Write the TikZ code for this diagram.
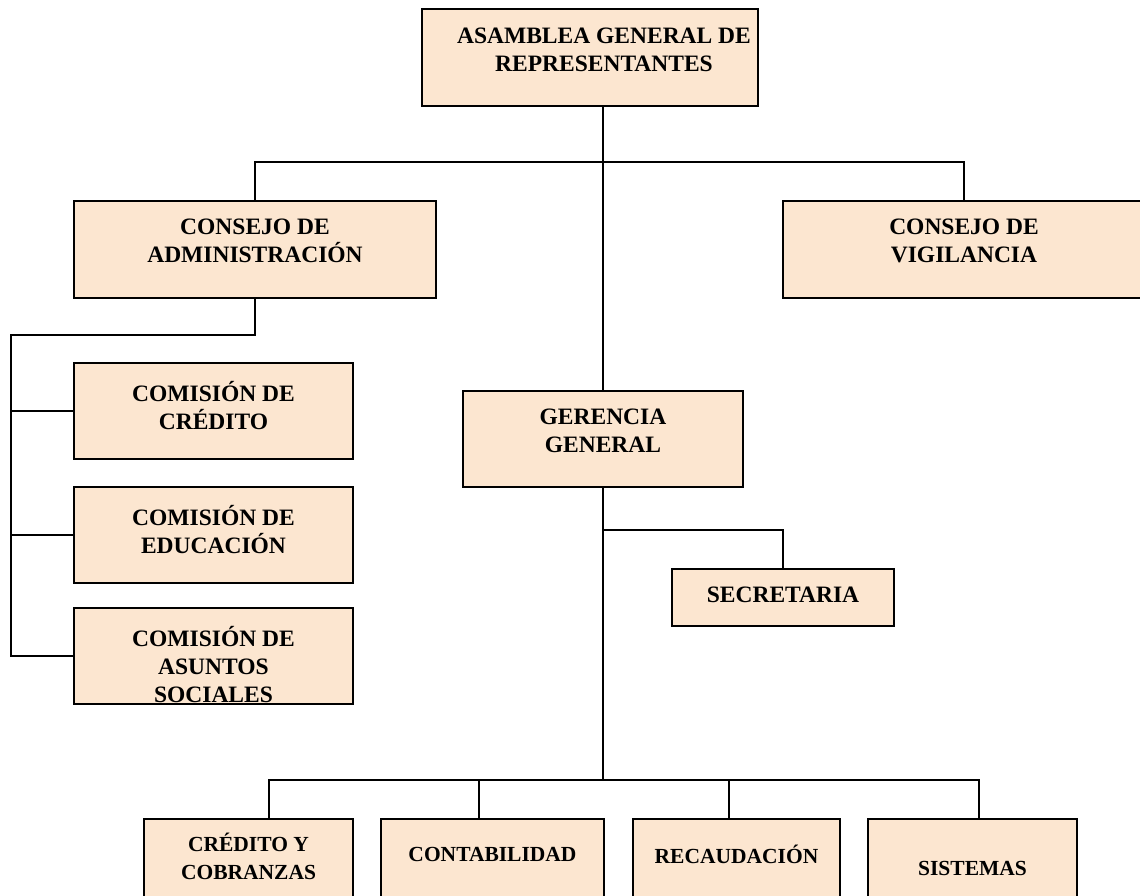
\documentclass[tikz,border=0pt]{standalone}
\usepackage{fontspec}
\setmainfont{Liberation Serif}
\usetikzlibrary{positioning}
\definecolor{peach}{RGB}{252,230,208}

\begin{document}
\begin{tikzpicture}[x=1pt,y=-1pt,
  unit/.style={draw, line width=2.4pt, fill=peach, inner sep=0pt, outer sep=0pt, anchor=north west},
  tag/.style={anchor=north, inner sep=0pt, align=center,
    font=\fontsize{23.5}{28}\selectfont\bfseries},
  low/.style={tag, font=\fontsize{21.5}{28}\selectfont\bfseries},
  link/.style={line width=1.6pt}
  ]
  \useasboundingbox (0,0) rectangle (1140,895);
  \clip (0,0) rectangle (1140,895);

  \node[unit, minimum width=336pt, minimum height=97pt] (asamblea) at (422,9) {};
  \node[unit, minimum width=362pt, minimum height=97pt] (admin) at (74,201) {};
  \node[unit, minimum width=362pt, minimum height=97pt] (vigil) at (783,201) {};
  \node[unit, minimum width=279pt, minimum height=96pt] (credito) at (74,363) {};
  \node[unit, minimum width=279pt, minimum height=96pt] (educacion) at (74,487) {};
  \node[unit, minimum width=279pt, minimum height=96pt] (asuntos) at (74,608) {};
  \node[unit, minimum width=280pt, minimum height=96pt] (gerencia) at (463,391) {};
  \node[unit, minimum width=222pt, minimum height=57pt] (secretaria) at (672,569) {};
  \node[unit, minimum width=209pt, minimum height=100pt] (cobranzas) at (144,819) {};
  \node[unit, minimum width=223pt, minimum height=100pt] (contab) at (381,819) {};
  \node[unit, minimum width=207pt, minimum height=100pt] (recaud) at (633,819) {};
  \node[unit, minimum width=209pt, minimum height=100pt] (sistemas) at (868,819) {};

  \node[tag, below=19pt of asamblea.north, xshift=14pt] (asamblea-t) {ASAMBLEA GENERAL DE\\REPRESENTANTES};
  \node[tag, below=18pt of admin.north] (admin-t) {CONSEJO DE\\ADMINISTRACIÓN};
  \node[tag, below=18pt of vigil.north] (vigil-t) {CONSEJO DE\\VIGILANCIA};
  \node[tag, below=18pt of credito.north] (credito-t) {COMISIÓN DE\\CRÉDITO};
  \node[tag, below=18pt of educacion.north] (educacion-t) {COMISIÓN DE\\EDUCACIÓN};
  \node[tag, below=18pt of asuntos.north] (asuntos-t) {COMISIÓN DE\\ASUNTOS\\SOCIALES};
  \node[tag, below=18pt of gerencia.north] (gerencia-t) {GERENCIA\\GENERAL};
  \node[tag, below=18pt of secretaria.north] (secretaria-t) {SECRETARIA};
  \node[low, below=14pt of cobranzas.north] (cobranzas-t) {CRÉDITO Y\\COBRANZAS};
  \node[low, below=28pt of contab.north] (contab-t) {CONTABILIDAD};
  \node[low, below=26pt of recaud.north] (recaud-t) {RECAUDACIÓN};
  \node[low, below=42pt of sistemas.north] (sistemas-t) {SISTEMAS};

  \coordinate (top-bar) at (603,162);
  \coordinate (spine) at (11,335);
  \coordinate (sec-joint) at (603,530);
  \coordinate (low-bar) at (603,780);

  \draw[link] (asamblea.south -| gerencia.north) -- (gerencia.north);
  \draw[link] (admin.north) |- (top-bar) -| (vigil.north);
  \draw[link] (admin.south) |- (spine) |- (asuntos.west);
  \draw[link] (spine |- credito.west) -- (credito.west);
  \draw[link] (spine |- educacion.west) -- (educacion.west);
  \draw[link] (gerencia.south) -- (low-bar);
  \draw[link] (sec-joint) -| (secretaria.north);
  \draw[link] ([xshift=20.5pt]cobranzas.north) |- (low-bar) -| ([xshift=6.5pt]sistemas.north);
  \draw[link] ([xshift=-13.5pt]contab.north) -- ([xshift=-13.5pt]contab.north |- low-bar);
  \draw[link] ([xshift=-7.5pt]recaud.north) -- ([xshift=-7.5pt]recaud.north |- low-bar);
\end{tikzpicture}
\end{document}
